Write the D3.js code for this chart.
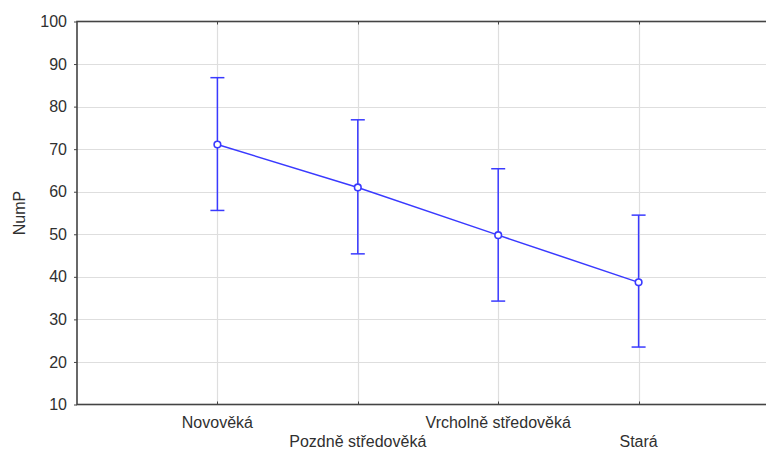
<!DOCTYPE html>
<html>
<head>
<meta charset="utf-8">
<script src="https://cdn.jsdelivr.net/npm/d3@7"></script>
<style>
  html, body { margin: 0; padding: 0; background: #fff; overflow: hidden; }
  svg { display: block; font-family: "Liberation Sans", Arial, sans-serif; }
</style>
</head>
<body>
<svg id="chart" width="766" height="449"></svg>
<script>
// Mean of NumP per period with ±interval
const categories = ["Novověká", "Pozdně středověká", "Vrcholně středověká", "Stará"];
const means = [71.1, 61.0, 49.8, 38.7];
const upper = [86.8, 76.9, 65.4, 54.5];
const lower = [55.6, 45.4, 34.3, 23.5];
const yTicks = [10, 20, 30, 40, 50, 60, 70, 80, 90, 100];

const svg = d3.select("#chart");
const plotLeft = 77, plotTop = 21.5, plotBottom = 404.5, plotRight = 779;
const fontSize = "16px";
const textColor = "#303030";

const x = d3.scaleLinear().domain([0, categories.length + 1]).range([plotLeft, plotRight]);
const y = d3.scaleLinear().domain([10, 100]).range([plotBottom, plotTop]);

const gridColor = "#dedede";
const frameColor = "#444";
const blue = "#3a3aff";

// grid lines
svg.append("g").selectAll("line").data(yTicks.slice(1, -1)).join("line")
  .attr("x1", plotLeft).attr("x2", plotRight)
  .attr("y1", d => Math.round(y(d)) + 0.5).attr("y2", d => Math.round(y(d)) + 0.5)
  .attr("stroke", gridColor).attr("stroke-width", 1.2);
svg.append("g").selectAll("line").data(categories).join("line")
  .attr("x1", (d, i) => Math.round(x(i + 1)) + 0.5).attr("x2", (d, i) => Math.round(x(i + 1)) + 0.5)
  .attr("y1", plotTop).attr("y2", plotBottom)
  .attr("stroke", gridColor).attr("stroke-width", 1.2);

// left axis with ticks and labels
const yAxis = d3.axisLeft(y).tickValues(yTicks).tickSize(3).tickPadding(7);
const gy = svg.append("g").attr("transform", `translate(${plotLeft},0)`).call(yAxis);
gy.attr("font-size", null).attr("font-family", null);
gy.select(".domain").remove();
gy.selectAll(".tick line").attr("stroke", frameColor);
gy.selectAll(".tick text").attr("fill", textColor).style("font-size", fontSize);

// category ticks along bottom and top edges (inward)
const xIdx = categories.map((d, i) => i + 1);
svg.append("g").selectAll("line").data(xIdx).join("line")
  .attr("x1", d => Math.round(x(d)) + 0.5).attr("x2", d => Math.round(x(d)) + 0.5)
  .attr("y1", plotBottom).attr("y2", plotBottom - 3).attr("stroke", frameColor);
svg.append("g").selectAll("line").data(xIdx).join("line")
  .attr("x1", d => Math.round(x(d)) + 0.5).attr("x2", d => Math.round(x(d)) + 0.5)
  .attr("y1", plotTop).attr("y2", plotTop + 3).attr("stroke", frameColor);

// frame
svg.append("rect").attr("x", plotLeft).attr("y", plotTop)
  .attr("width", plotRight - plotLeft).attr("height", plotBottom - plotTop)
  .attr("fill", "none").attr("stroke", frameColor).attr("stroke-width", 1.6);

// category labels, staggered in two rows
svg.append("g").selectAll("text").data(categories).join("text")
  .attr("x", (d, i) => x(i + 1))
  .attr("y", (d, i) => i % 2 === 0 ? 428 : 446.5)
  .attr("text-anchor", "middle")
  .attr("fill", textColor).style("font-size", fontSize)
  .text(d => d);

// y axis title
svg.append("text")
  .attr("transform", `translate(25,213) rotate(-90)`)
  .attr("text-anchor", "middle")
  .attr("fill", textColor).style("font-size", fontSize)
  .text("NumP");

// error bars
const eb = svg.append("g").attr("stroke", blue).attr("stroke-width", 1.5);
categories.forEach((c, i) => {
  const cx = x(i + 1);
  eb.append("line").attr("x1", cx).attr("x2", cx).attr("y1", y(upper[i])).attr("y2", y(lower[i]));
  eb.append("line").attr("x1", cx - 7).attr("x2", cx + 7).attr("y1", y(upper[i])).attr("y2", y(upper[i]));
  eb.append("line").attr("x1", cx - 7).attr("x2", cx + 7).attr("y1", y(lower[i])).attr("y2", y(lower[i]));
});

// mean line
const line = d3.line().x((d, i) => x(i + 1)).y(d => y(d));
svg.append("path").datum(means).attr("d", line)
  .attr("fill", "none").attr("stroke", blue).attr("stroke-width", 1.5);

// mean markers
svg.append("g").selectAll("circle").data(means).join("circle")
  .attr("cx", (d, i) => x(i + 1)).attr("cy", d => y(d)).attr("r", 3.3)
  .attr("fill", "#fff").attr("stroke", blue).attr("stroke-width", 1.6);
</script>
</body>
</html>
